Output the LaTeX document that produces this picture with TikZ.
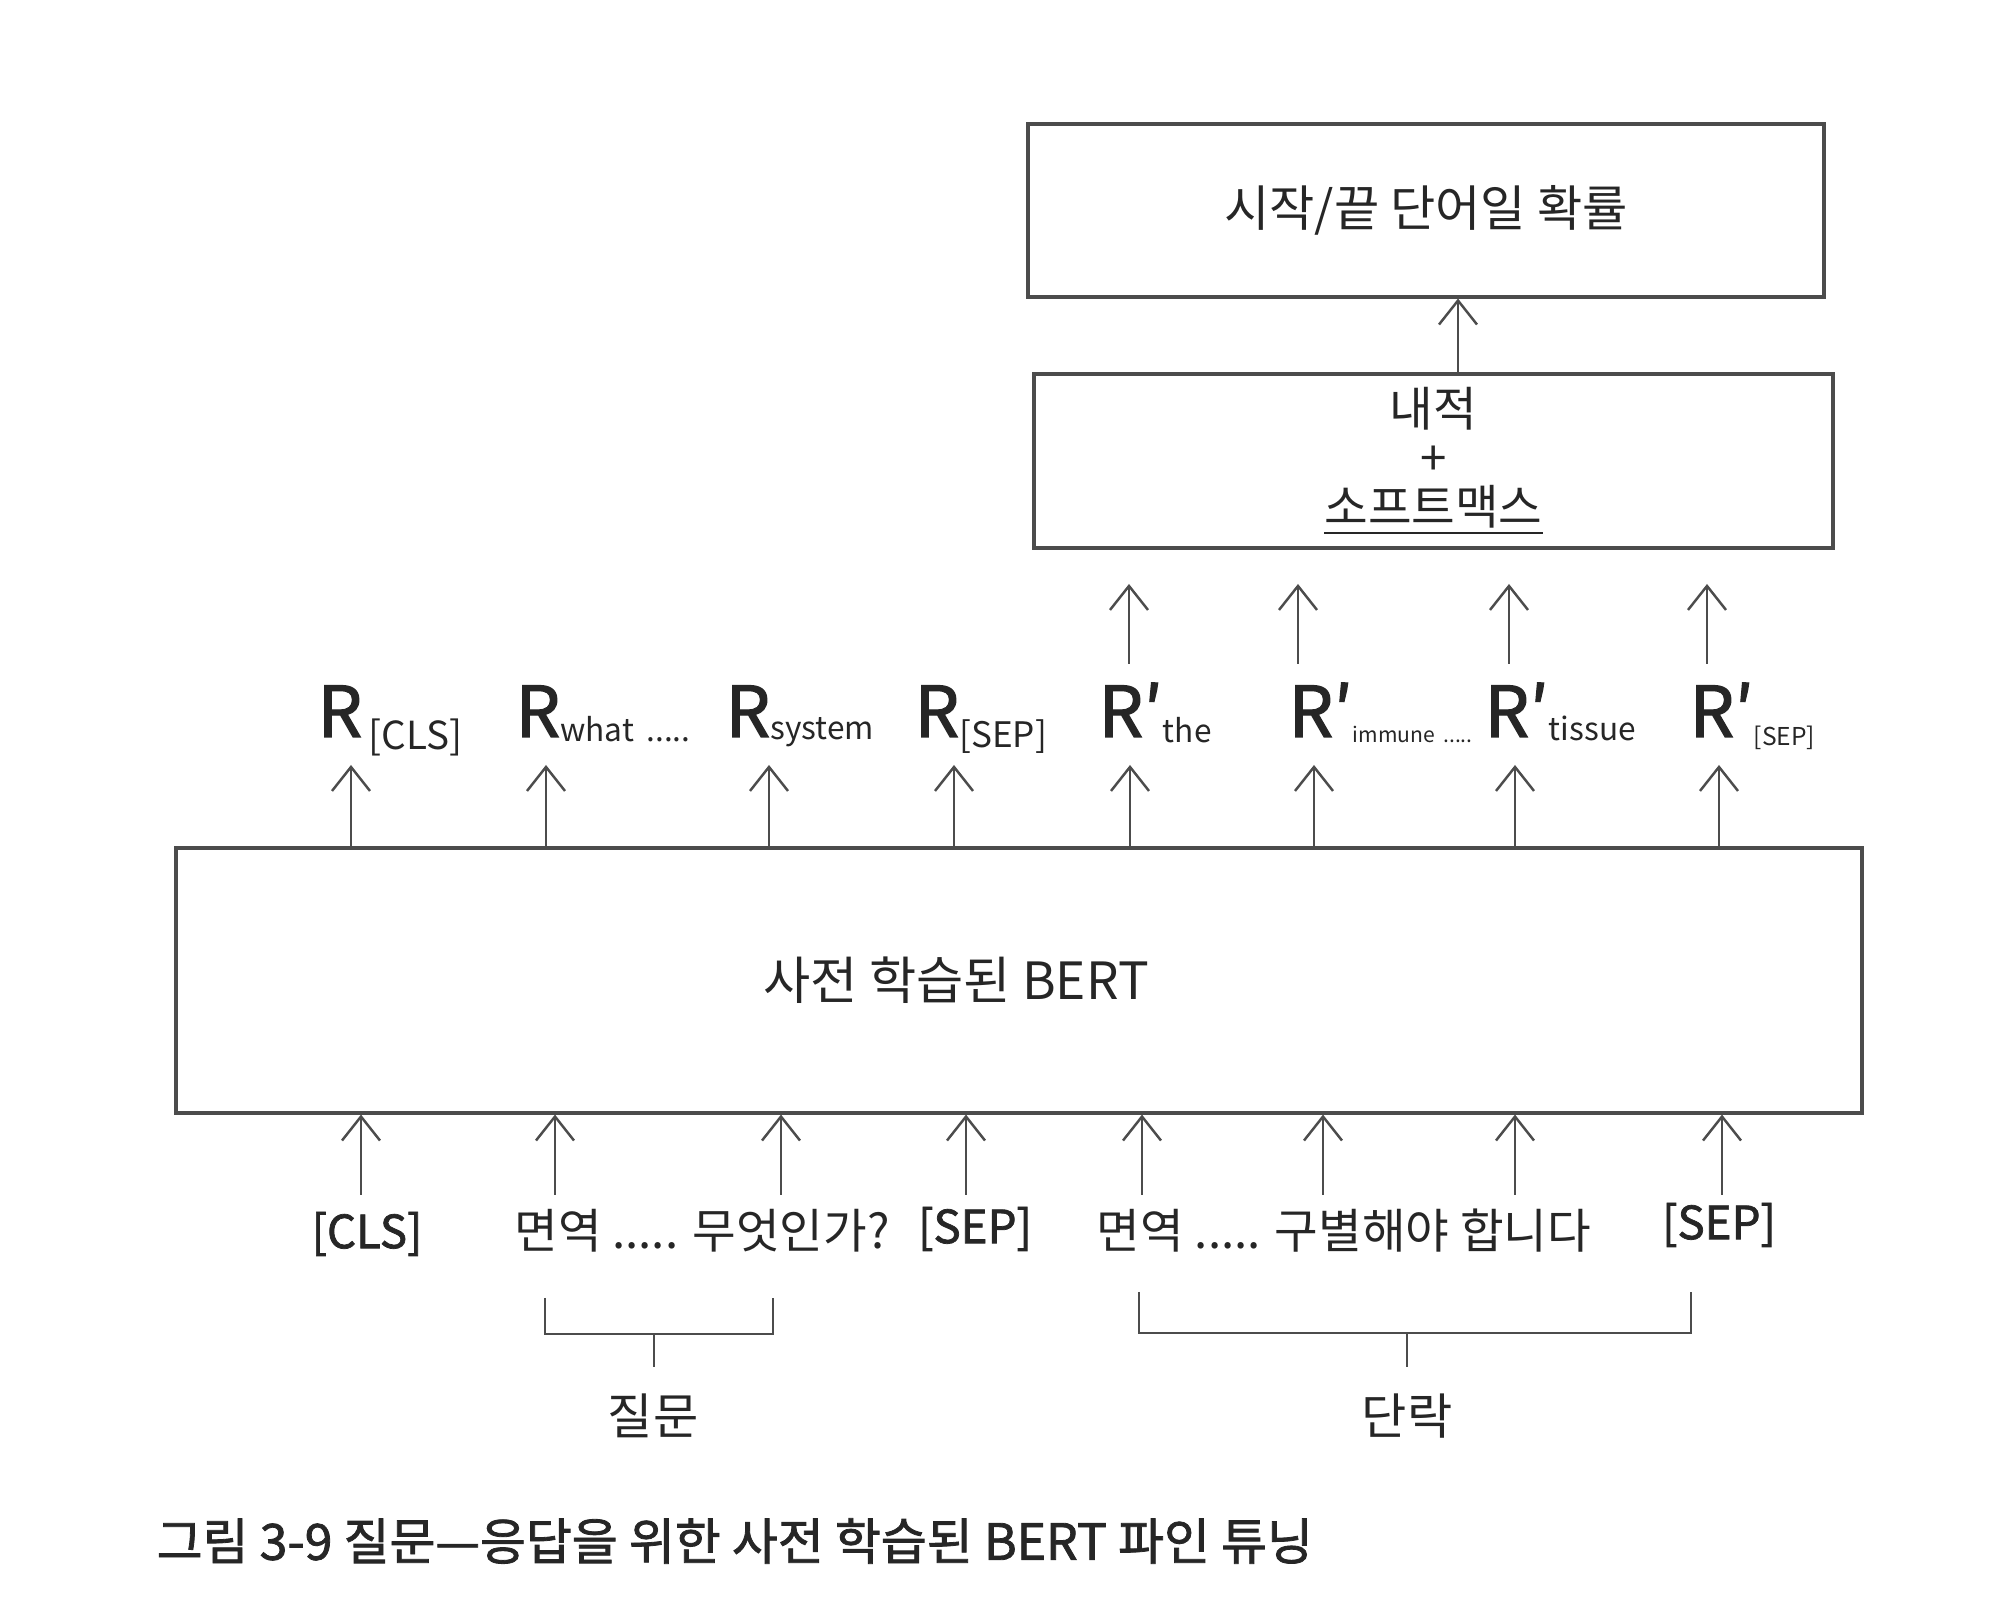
\documentclass[tikz,border=0pt]{standalone}
\usepackage{fontspec}
\setmainfont{Noto Sans CJK KR}
\newfontfamily\medfont{Noto Sans CJK KR}[FakeBold=1.6]
\usetikzlibrary{arrows.meta,positioning}

% R token with subscript: {main}{sub}{sub size}{drop}
\newcommand{\rtok}[4]{{\medfont\fontsize{20pt}{20pt}\selectfont #1}\raisebox{-#4}{\fontsize{#3}{#3}\selectfont #2}}

\begin{document}
\begin{tikzpicture}[>={Straight Barb[length=2.4mm,width=3.8mm]},
    box/.style={draw=black!70, line width=0.9pt, inner sep=0pt},
    txt/.style={text=black!85, font=\fontsize{13.5pt}{14pt}\selectfont},
    tok/.style={text=black!85, anchor=base west, inner sep=0pt},
    sep/.style={txt, font=\medfont\fontsize{13pt}{14pt}\selectfont},
    arr/.style={->, draw=black!70, line width=0.7pt}]
    \useasboundingbox (0,0) rectangle (20,16.09);

    % --- 위쪽 박스 두 개 ---
    \node[box, txt, font=\fontsize{14pt}{14pt}\selectfont, minimum width=7.96cm, minimum height=1.73cm] (prob) at (14.26,13.985) {시작/끝 단어일 확률};
    \node[box, txt, minimum width=7.99cm, minimum height=1.74cm, align=center] (soft) at (14.335,11.48) {내적\\+\\\underline{소프트맥스}};
    \coordinate (sx) at (14.58,0);
    \draw[arr] (soft.north -| sx) -- (prob.south -| sx);

    % --- BERT 본체 ---
    \node[box, minimum width=16.86cm, minimum height=2.65cm] (bert) at (10.19,6.285) {};
    \node[txt, font=\fontsize{14.6pt}{15pt}\selectfont] (berttxt) at (9.56,6.29) {사전 학습된 BERT};

    % --- 출력 표현 R ---
    \node[tok] (r1) at (3.17,8.72) {\rtok{R}{\,[CLS]}{11pt}{1.3mm}};
    \node[tok] (r2) at (5.15,8.72) {\rtok{R}{what\, .....}{9pt}{0.5mm}};
    \node[tok] (r3) at (7.25,8.72) {\rtok{R}{system}{9pt}{0.3mm}};
    \node[tok] (r4) at (9.14,8.72) {\rtok{R}{[SEP]}{10pt}{1.1mm}};
    \node[tok] (r5) at (10.98,8.72) {\rtok{R′}{the}{9pt}{0.6mm}};
    \node[tok] (r6) at (12.88,8.72) {\rtok{R′}{immune\, .....}{6pt}{0.6mm}};
    \node[tok] (r7) at (14.84,8.72) {\rtok{R′}{tissue}{9pt}{0.4mm}};
    \node[tok] (r8) at (16.89,8.72) {\rtok{R′}{[SEP]}{7pt}{0.9mm}};

    % BERT -> R
    \foreach \x [count=\i] in {3.51,5.46,7.69,9.54,11.30,13.14,15.15,17.19} {
        \coordinate (t\i) at (\x,8.44);
        \draw[arr] (t\i |- bert.north) -- (t\i);
    }
    % R' -> 내적 + 소프트맥스
    \foreach \x [count=\i] in {11.29,12.98,15.09,17.07} {
        \coordinate (u\i) at (\x,9.45);
        \draw[arr] (u\i) -- (\x,10.25);
    }

    % --- 입력 토큰 ---
    \node[sep] (w1) at (3.67,3.75) {[CLS]};
    \node[txt] (w2) at (7.02,3.78) {면역 ..... 무엇인가?};
    \node[sep] (w3) at (9.75,3.80) {[SEP]};
    \node[txt] (w4) at (13.44,3.78) {면역 ..... 구별해야 합니다};
    \node[sep] (w5) at (17.19,3.84) {[SEP]};

    \foreach \x [count=\i] in {3.61,5.55,7.81,9.66,11.42,13.23,15.15,17.22} {
        \coordinate (b\i) at (\x,4.14);
        \draw[arr] (b\i) -- (b\i |- bert.south);
    }

    % --- 질문 / 단락 괄호 ---
    \draw[draw=black!70, line width=0.8pt] (5.45,3.11) -- (5.45,2.75) -- (7.73,2.75) -- (7.73,3.11);
    \draw[draw=black!70, line width=0.8pt] (6.54,2.75) -- (6.54,2.42);
    \draw[draw=black!70, line width=0.8pt] (11.39,3.17) -- (11.39,2.76) -- (16.91,2.76) -- (16.91,3.17);
    \draw[draw=black!70, line width=0.8pt] (14.07,2.76) -- (14.07,2.42);
    \node[txt, font=\fontsize{14pt}{14pt}\selectfont] (q) at (6.53,1.93) {질문};
    \node[txt, font=\fontsize{14pt}{14pt}\selectfont] (p) at (14.07,1.93) {단락};

    % --- 캡션 ---
    \node[txt, anchor=west, inner sep=0pt, font=\medfont\fontsize{14.2pt}{14pt}\selectfont] (cap) at (1.56,0.68) {그림 3-9 질문—응답을 위한 사전 학습된 BERT 파인 튜닝};
\end{tikzpicture}
\end{document}
